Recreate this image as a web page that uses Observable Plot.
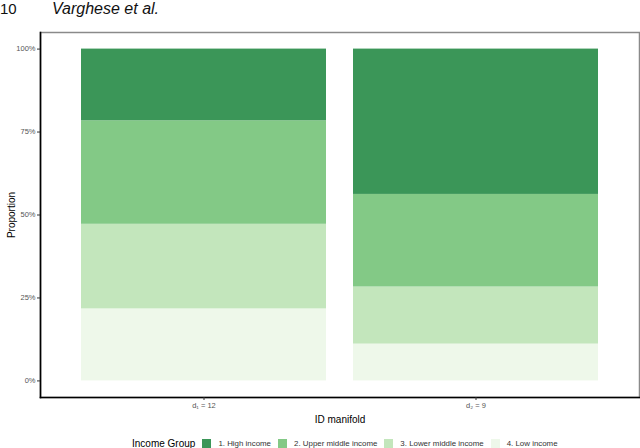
<!DOCTYPE html>
<html>
<head>
<meta charset="utf-8">
<script src="https://cdn.jsdelivr.net/npm/d3@7"></script>
<script src="https://cdn.jsdelivr.net/npm/@observablehq/plot@0.6"></script>
<style>
  html, body { margin: 0; padding: 0; background: #fff; }
  body { width: 640px; height: 448px; position: relative; overflow: hidden; font-family: "Liberation Sans", Arial, sans-serif; }
  #header { height: 30px; position: relative; }
  #header .num { position: absolute; left: 0; top: 0px; font-size: 15px; color: #111; }
  #header .auth { position: absolute; left: 52px; top: 0px; font-size: 16px; font-style: italic; color: #111; }
  #chart { height: 398px; }
  #legend { position: absolute; top: 437px; left: 132px; display: flex; align-items: center; height: 12px; white-space: nowrap; }
  #legend .title { font-size: 10px; color: #000; margin-right: 7px; }
  #legend .key { width: 9px; height: 9px; margin-right: 7px; }
  #legend .lab { font-size: 7.9px; color: #333; margin-right: 7px; }
</style>
</head>
<body>
<div id="header"><span class="num">10</span><span class="auth">Varghese et al.</span></div>
<div id="chart"></div>
<div id="legend"></div>
<script>
// Data
const manifolds = ["d\u2081 = 12", "d\u2082 = 9"];
const groups = ["1. High income", "2. Upper middle income", "3. Lower middle income", "4. Low income"];
const colors = ["#3b9658", "#83c986", "#c3e6bc", "#eef8ea"];
// proportions per manifold, in group order (high, upper middle, lower middle, low)
const propD1 = [0.216, 0.312, 0.255, 0.217];
const propD2 = [0.438, 0.279, 0.172, 0.111];
const yTicks = [0, 0.25, 0.5, 0.75, 1];

const rows = [];
[propD1, propD2].forEach((vals, i) => {
  // bottom-first stacking: low income at bottom
  for (let g = groups.length - 1; g >= 0; g--) {
    rows.push({manifold: manifolds[i], group: groups[g], value: vals[g]});
  }
});

const plot = Plot.plot({
  width: 640,
  height: 398,
  marginTop: 2,
  marginBottom: 31,
  marginLeft: 40,
  marginRight: 1,
  style: {fontFamily: "'Liberation Sans', Arial, sans-serif", background: "#fff"},
  x: {domain: manifolds, paddingInner: 0.1, paddingOuter: 0.15, label: null},
  y: {domain: [-0.05, 1.05], label: null},
  color: {domain: groups, range: colors},
  marks: [
    Plot.barY(rows, {x: "manifold", y: "value", fill: "group"}),
    Plot.frame({stroke: "#8a8a8a", strokeWidth: 1.5}),
    Plot.frame({anchor: "left", stroke: "#000", strokeWidth: 1.6}),
    Plot.frame({anchor: "bottom", stroke: "#000", strokeWidth: 1.6}),
    Plot.axisY({ticks: yTicks, tickFormat: d => Math.round(d * 100) + "%", tickSize: 3, tickPadding: 2,
      fontSize: 7.5, color: "#555", stroke: "#333",
      label: "Proportion", labelAnchor: "center", labelOffset: 33, labelArrow: "none"}),
    Plot.axisX({tickSize: 3, tickPadding: 2, fontSize: 7.5, color: "#555", stroke: "#333",
      label: "ID manifold", labelAnchor: "center", labelOffset: 25, labelArrow: "none"})
  ]
});
// make axis labels darker / larger
plot.querySelectorAll("g[aria-label='y-axis label'] text, g[aria-label='x-axis label'] text").forEach(t => {
  t.setAttribute("font-size", "10"); t.setAttribute("fill", "#000");
});
document.getElementById("chart").appendChild(plot);

const leg = document.getElementById("legend");
const t = document.createElement("span"); t.className = "title"; t.textContent = "Income Group"; leg.appendChild(t);
groups.forEach((g, i) => {
  const k = document.createElement("span"); k.className = "key"; k.style.background = colors[i]; leg.appendChild(k);
  const l = document.createElement("span"); l.className = "lab"; l.textContent = g; leg.appendChild(l);
});
</script>
</body>
</html>
